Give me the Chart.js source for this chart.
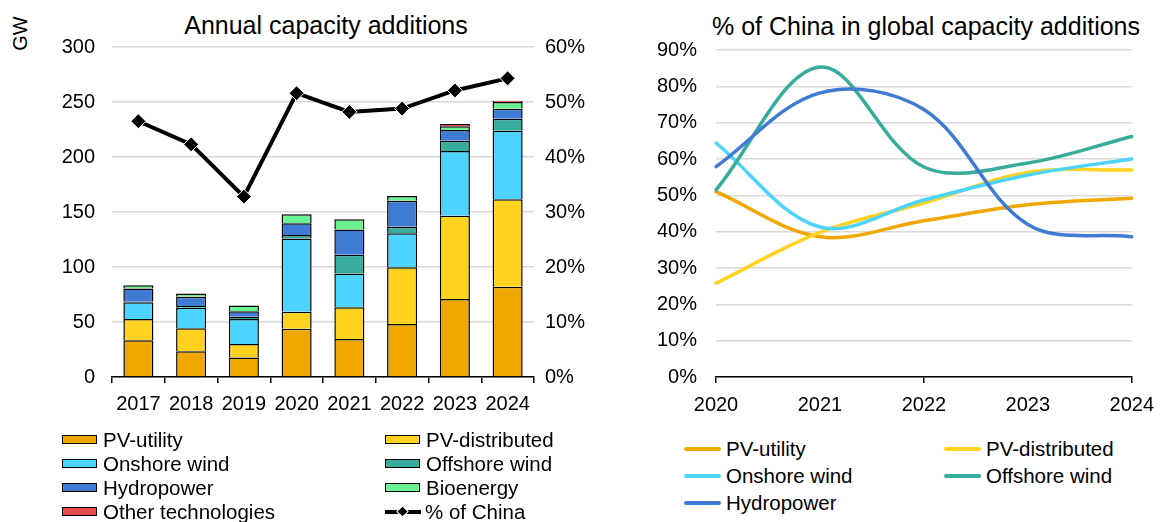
<!DOCTYPE html>
<html>
<head>
<meta charset="utf-8">
<script src="https://cdn.jsdelivr.net/npm/chart.js@4.4.1/dist/chart.umd.min.js"></script>
<style>
  body { margin: 0; background: #fff; font-family: 'Liberation Sans', Arial, sans-serif; color: #000; }
  #page { position: relative; width: 1164px; height: 522px; overflow: hidden; }
  .box { position: absolute; }
  .title { position: absolute; width: 440px; font-size: 25px; line-height: 30px; text-align: center; white-space: nowrap; }
  .leg { position: absolute; height: 24px; font-size: 20.5px; line-height: 24px; white-space: nowrap; }
  .swatch { position: absolute; width: 33px; height: 7px; border: 1.5px solid #000; }
  .lineSample { position: absolute; width: 37px; height: 4px; border-radius: 2px; }
</style>
</head>
<body>
<div id="page">
  <div class="title" style="left:106px; top:10px;">Annual capacity additions</div>
  <div class="title" style="left:706px; top:11px;">% of China in global capacity additions</div>
  <div class="box" style="left:2px; top:22px; width:36px; height:23px; font-size:20px; line-height:23px; text-align:center; transform:rotate(-90deg);">GW</div>
  <div class="box" style="left:0; top:0;"><canvas id="bars" width="600" height="430"></canvas></div>
  <div class="box" style="left:600px; top:0;"><canvas id="shares" width="564" height="430"></canvas></div>
  <div id="legends"></div>
</div>
<script>
// Annual capacity additions (GW)
var years = ['2017', '2018', '2019', '2020', '2021', '2022', '2023', '2024'];
var pvUtility     = [33.5, 23.3, 17.8, 43.8, 34.5, 48.1, 70.8, 82.0];
var pvDistributed = [19.3, 21.0, 12.1, 15.5, 28.8, 51.6, 75.8, 79.7];
var onshoreWind   = [15.2, 18.7, 22.8, 66.7, 30.9, 30.9, 58.8, 62.1];
var offshoreWind  = [0.5, 1.5, 2.0, 3.0, 17.0, 6.0, 9.3, 10.9];
var hydropower    = [12.0, 8.5, 5.0, 10.7, 23.0, 23.6, 9.8, 9.1];
var bioenergy     = [3.0, 3.0, 5.3, 8.3, 9.3, 4.3, 3.5, 6.2];
var otherTech     = [0, 0, 0, 0, 0, 0, 2.0, 1.2];
var pctChina      = [46.5, 42.3, 32.8, 51.6, 48.2, 48.8, 52.1, 54.3];
var gwTicks = [0, 50, 100, 150, 200, 250, 300];

// % of China in global capacity additions
var shareYears       = ['2020', '2021', '2022', '2023', '2024'];
var shareUtility     = [51.0, 38.6, 43.0, 47.4, 49.2];
var shareDistributed = [25.8, 39.8, 47.9, 56.3, 57.0];
var shareOnshore     = [64.4, 41.3, 48.7, 55.6, 60.0];
var shareOffshore    = [51.5, 85.3, 57.8, 58.9, 66.2];
var shareHydro       = [57.9, 78.2, 73.6, 42.0, 38.6];

var barNames = ['PV-utility', 'PV-distributed', 'Onshore wind', 'Offshore wind', 'Hydropower', 'Bioenergy', 'Other technologies'];
var barValues = [pvUtility, pvDistributed, onshoreWind, offshoreWind, hydropower, bioenergy, otherTech];
var barColors = ['#f0a800', '#ffd21f', '#4cd4ff', '#37ac9c', '#3f7bd4', '#6af293', '#e64a4a'];

var lineNames = ['PV-utility', 'PV-distributed', 'Onshore wind', 'Offshore wind', 'Hydropower'];
var lineValues = [shareUtility, shareDistributed, shareOnshore, shareOffshore, shareHydro];
var lineColors = ['#f0a800', '#ffd21f', '#4cd4ff', '#38ac9c', '#3f7bd4'];

Chart.defaults.font.family = "'Liberation Sans', Arial, sans-serif";
Chart.defaults.color = '#000';

var gridGrey = '#d9d9d9';

var barSets = barNames.map(function (name, i) {
  return {
    type: 'bar', label: name, data: barValues[i], yAxisID: 'y', order: 1,
    backgroundColor: barColors[i], borderColor: '#000', borderWidth: 1.5,
    barPercentage: 0.57, categoryPercentage: 1
  };
});
barSets.push({
  type: 'line', label: '% of China', data: pctChina, yAxisID: 'y2', order: 0,
  borderColor: '#000', borderWidth: 4, tension: 0,
  pointStyle: 'rectRot', pointRadius: 7.5, pointBackgroundColor: '#000',
  pointBorderColor: '#fff', pointBorderWidth: 1
});

new Chart(document.getElementById('bars'), {
  data: { labels: years, datasets: barSets },
  options: {
    responsive: false, animation: false, devicePixelRatio: 1,
    layout: { padding: { top: 47, left: 0, right: 0, bottom: 0 } },
    plugins: { legend: { display: false }, tooltip: { enabled: false } },
    scales: {
      x: {
        stacked: true,
        grid: { offset: true, drawOnChartArea: false, color: '#000', tickLength: 6, lineWidth: 1.5 },
        border: { color: '#000', width: 1.5 },
        ticks: { font: { size: 20 }, color: '#000', padding: 9, maxRotation: 0 },
        afterFit: function (s) { s.height = 53; }
      },
      y: {
        stacked: true, position: 'left', min: 0, max: 300,
        afterBuildTicks: function (s) { s.ticks = gwTicks.map(function (v) { return { value: v }; }); },
        grid: { color: gridGrey, lineWidth: 1.5, drawTicks: false },
        border: { display: false },
        ticks: { font: { size: 20 }, color: '#000', padding: 17 },
        afterFit: function (s) { s.width = 112; }
      },
      y2: {
        position: 'right', min: 0, max: 60,
        grid: { drawOnChartArea: false, drawTicks: false },
        border: { display: false },
        ticks: { stepSize: 10, font: { size: 20 }, color: '#000', padding: 11,
                 callback: function (v) { return v + '%'; } },
        afterFit: function (s) { s.width = 66; }
      }
    }
  }
});

new Chart(document.getElementById('shares'), {
  type: 'line',
  data: {
    labels: shareYears,
    datasets: lineNames.map(function (name, i) {
      return {
        label: name, data: lineValues[i], borderColor: lineColors[i],
        borderWidth: 3.5, tension: 0.35, pointRadius: 0, fill: false,
        borderCapStyle: 'round'
      };
    }).reverse()
  },
  options: {
    responsive: false, animation: false, devicePixelRatio: 1,
    layout: { padding: { top: 50, left: 0, right: 31, bottom: 0 } },
    plugins: { legend: { display: false }, tooltip: { enabled: false } },
    scales: {
      x: {
        offset: false,
        grid: {
          drawOnChartArea: false, tickLength: 6, lineWidth: 1.5,
          tickColor: function (c) { return c.index % 2 === 0 ? '#000' : 'rgba(0,0,0,0)'; }
        },
        border: { color: '#000', width: 1.5 },
        ticks: { font: { size: 20 }, color: '#000', padding: 10, maxRotation: 0 },
        afterFit: function (s) { s.height = 53; }
      },
      y: {
        min: 0, max: 90,
        grid: { color: gridGrey, lineWidth: 1.5, drawTicks: false },
        border: { display: false },
        ticks: { stepSize: 10, font: { size: 20 }, color: '#000', padding: 19,
                 callback: function (v) { return v + '%'; } },
        afterFit: function (s) { s.width = 116; }
      }
    }
  }
});

// legends, built from the same names and colours
var legends = document.getElementById('legends');
function addItem(x, y, html) {
  var d = document.createElement('div');
  d.className = 'leg';
  d.style.left = x + 'px';
  d.style.top = (y - 12) + 'px';
  d.innerHTML = html;
  legends.appendChild(d);
}
var barRows = [440, 464, 488, 512];
barNames.forEach(function (name, i) {
  var col = i % 2, row = Math.floor(i / 2);
  addItem(col ? 385 : 62, barRows[row],
    '<span class="swatch" style="left:0; top:7px; background:' + barColors[i] + '"></span>' +
    '<span style="position:absolute; left:41px; top:0;">' + name + '</span>');
});
addItem(385, barRows[3],
  '<span style="position:absolute; left:0; top:10px; width:36px; height:4px; background:#000"></span>' +
  '<span style="position:absolute; left:14px; top:8px; width:7px; height:7px; background:#000; transform:rotate(45deg); outline:1px solid #fff"></span>' +
  '<span style="position:absolute; left:40px; top:0;">% of China</span>');

var lineRows = [449, 476, 503];
lineNames.forEach(function (name, i) {
  var col = i % 2, row = Math.floor(i / 2);
  addItem(col ? 944 : 684, lineRows[row],
    '<span class="lineSample" style="left:0; top:10px; background:' + lineColors[i] + '"></span>' +
    '<span style="position:absolute; left:42px; top:0;">' + name + '</span>');
});
</script>
</body>
</html>
